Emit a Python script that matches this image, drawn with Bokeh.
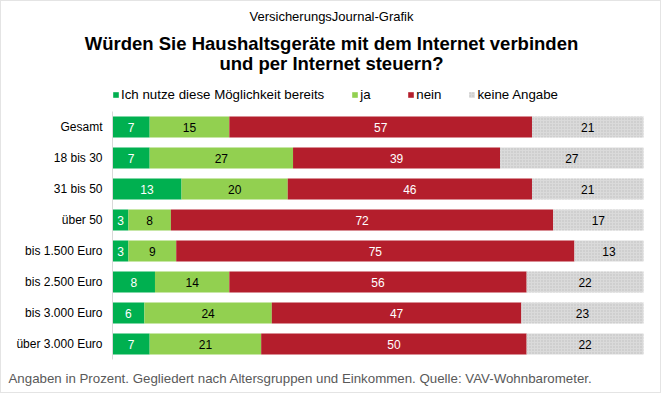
import numpy as np
from bokeh.plotting import figure
from bokeh.models import ColumnDataSource, Range1d, Label
from bokeh.core.properties import value
from bokeh.embed import file_html
from bokeh.resources import INLINE

categories = ["Gesamt", "18 bis 30", "31 bis 50", "über 50", "bis 1.500 Euro",
              "bis 2.500 Euro", "bis 3.000 Euro", "über 3.000 Euro"]
series = ["Ich nutze diese Möglichkeit bereits", "ja", "nein", "keine Angabe"]
keys = ["bereits", "ja", "nein", "keine"]
bereits = [7, 7, 13, 3, 3, 8, 6, 7]
ja = [15, 27, 20, 8, 9, 14, 24, 21]
nein = [57, 39, 46, 72, 75, 56, 47, 50]
keine = [21, 27, 21, 17, 13, 22, 23, 22]
colors = ["#00B050", "#92D050", "#B41E2C", "#DADADA"]
label_colors = ["white", "black", "white", "black"]

FONT = "Liberation Sans"
W, H = 661, 393
# layout (pixels): bars start at x=112, 100 % at x=643; first row centred at y=126.5, rows 31 px apart
X0, PXPCT = 112, 5.31
Y0, ROW = 126.5, 31.0

rows = list(range(len(categories)))
source = ColumnDataSource(dict(row=rows, cat=categories, bereits=bereits, ja=ja,
                               nein=nein, keine=keine))

p = figure(width=W, height=H, output_backend="svg", toolbar_location=None,
           x_range=Range1d(-X0 / PXPCT, (W - X0) / PXPCT),
           y_range=Range1d((H - Y0) / ROW, -Y0 / ROW),
           x_axis_location=None, y_axis_location=None,
           min_border=0)
p.grid.visible = False
p.background_fill_color = "white"
p.border_fill_color = "white"
p.outline_line_color = "#C8C8C8"
p.outline_line_dash = "1 1"
p.outline_line_width = 1

p.hbar_stack(keys, y="row", height=0.68, color=colors, source=source,
             line_color=None, legend_label=series,
             hatch_pattern=[None, None, None, "."], hatch_color="#BDBDBD",
             hatch_scale=3, hatch_weight=1)

# category axis line and labels
p.segment(x0=[0], x1=[0], y0=[-0.5], y1=[len(categories) - 0.5],
          line_color="#D9D9D9", line_width=1)
p.text(x=-10 / PXPCT, y="row", text="cat", source=source,
       text_align="right", text_baseline="middle",
       text_font=value(FONT), text_font_size="12px", text_color="black")

vals = np.array([bereits, ja, nein, keine], dtype=float)
starts = np.vstack([np.zeros(len(categories)), np.cumsum(vals, axis=0)[:-1]])
tx, ty, tt, tc = [], [], [], []
for i in range(len(keys)):
    for j in rows:
        tx.append(starts[i, j] + vals[i, j] / 2)
        ty.append(j)
        tt.append(str(int(vals[i, j])))
        tc.append(label_colors[i])
p.text(x="x", y="y", text="t", text_color="c",
       source=ColumnDataSource(dict(x=tx, y=ty, t=tt, c=tc)),
       text_align="center", text_baseline="middle",
       text_font=value(FONT), text_font_size="12px")

lg = p.legend[0]
lg.orientation = "horizontal"
lg.location = (112, H - 86 - 16)
lg.glyph_width = 7
lg.glyph_height = 7
lg.label_height = 7
lg.label_standoff = 2
lg.spacing = 27
lg.padding = 0
lg.margin = 0
lg.border_line_color = None
lg.background_fill_alpha = 0
lg.label_text_font = FONT
lg.label_text_font_size = "13.3px"
lg.label_text_color = "black"


def add_label(text, px, py, size, bold=False, color="black", align="center"):
    p.add_layout(Label(x=px, y=H - py, x_units="screen", y_units="screen",
                       text=text, text_font=FONT, text_font_size=size,
                       text_font_style="bold" if bold else "normal",
                       text_color=color, text_align=align, text_baseline="middle"))


add_label("VersicherungsJournal-Grafik", 331, 16, "13px")
add_label("Würden Sie Haushaltsgeräte mit dem Internet verbinden", 331, 42.5, "18.5px", bold=True)
add_label("und per Internet steuern?", 331, 63, "18.5px", bold=True)
add_label("Angaben in Prozent. Gegliedert nach Altersgruppen und Einkommen. Quelle: VAV-Wohnbarometer.",
          8, 378, "13.3px", color="#595959", align="left")

open("out.html", "w").write(file_html(p, INLINE))
